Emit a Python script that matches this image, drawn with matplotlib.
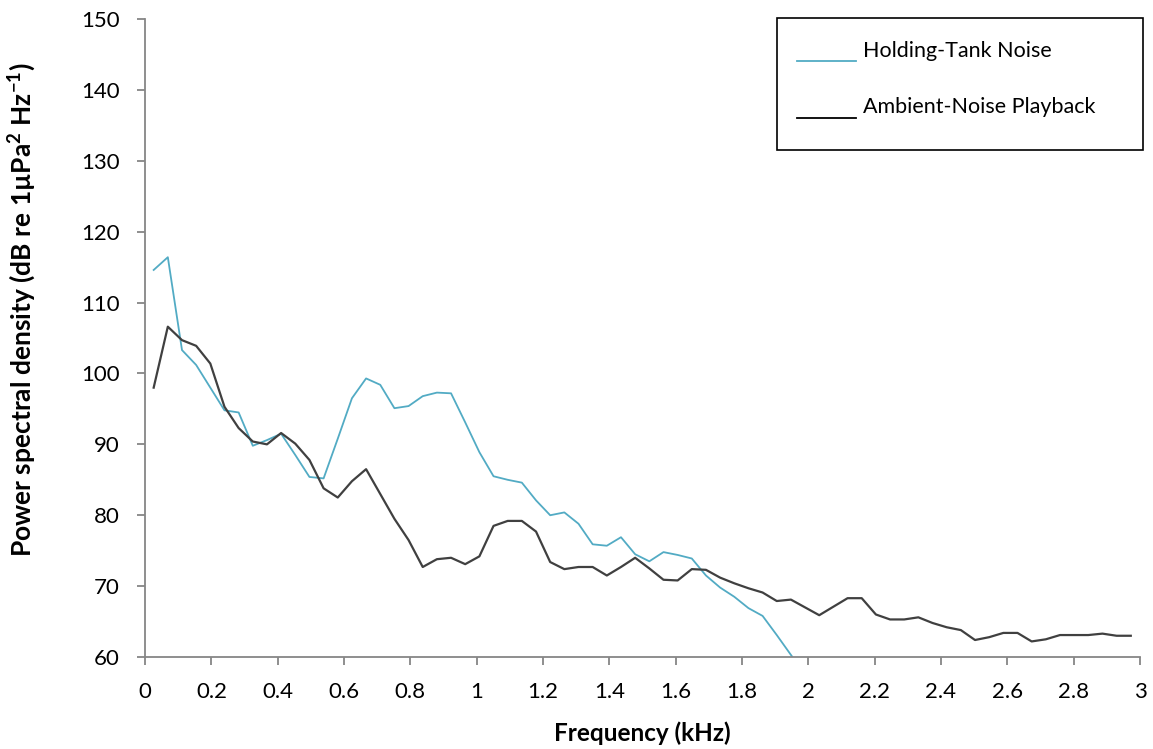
import numpy as np
import matplotlib
matplotlib.use('Agg')
import matplotlib.pyplot as plt
from matplotlib.patches import Rectangle
from matplotlib.lines import Line2D
from matplotlib.ticker import FuncFormatter, MultipleLocator

plt.rcParams['font.family'] = ['Lato', 'DejaVu Sans']
plt.rcParams['mathtext.fontset'] = 'custom'
plt.rcParams['mathtext.rm'] = 'Lato'
plt.rcParams['mathtext.bf'] = 'Lato:bold'

# frequency bins (kHz)
freq = np.round(0.026 + 0.0427 * np.arange(70), 4)

tank = [114.6, 116.4, 103.3, 101.2, 98.0, 94.8, 94.5, 89.8, 90.6, 91.5,
        88.5, 85.4, 85.2, 90.8, 96.5, 99.3, 98.4, 95.1, 95.4, 96.8,
        97.3, 97.2, 93.1, 88.9, 85.5, 85.0, 84.6, 82.1, 80.0, 80.4,
        78.8, 75.9, 75.7, 76.9, 74.5, 73.5, 74.8, 74.4, 73.9, 71.5,
        69.8, 68.5, 66.9, 65.8, 63.1, 60.3, 57.5]

playback = [98.0, 106.6, 104.7, 103.9, 101.4, 95.3, 92.3, 90.4, 90.0, 91.6,
            90.1, 87.8, 83.8, 82.5, 84.8, 86.5, 83.0, 79.5, 76.5, 72.7,
            73.8, 74.0, 73.1, 74.2, 78.5, 79.2, 79.2, 77.7, 73.4, 72.4,
            72.7, 72.7, 71.5, 72.7, 74.0, 72.5, 70.9, 70.8, 72.4, 72.3,
            71.2, 70.4, 69.7, 69.1, 67.9, 68.1, 67.0, 65.9, 67.1, 68.3,
            68.3, 66.0, 65.3, 65.3, 65.6, 64.8, 64.2, 63.8, 62.4, 62.8,
            63.4, 63.4, 62.2, 62.5, 63.1, 63.1, 63.1, 63.3, 63.0, 63.0]

labels = ['Holding-Tank Noise', 'Ambient-Noise Playback']
blue = '#52abc4'
dark = '#404040'
axis_grey = '#868686'

fig = plt.figure(figsize=(11.53, 7.49), dpi=100)
ax = fig.add_axes([0.1258, 0.1228, 0.8629, 0.8518])

ax.plot(freq[:len(tank)], tank, color=blue, lw=1.3)
ax.plot(freq, playback, color=dark, lw=1.6)

ax.set_xlim(0, 3)
ax.set_ylim(60, 150)
ax.xaxis.set_major_locator(MultipleLocator(0.2))
ax.yaxis.set_major_locator(MultipleLocator(10))
ax.xaxis.set_major_formatter(FuncFormatter(lambda v, p: f'{v:g}'))
for s in ['top', 'right']:
    ax.spines[s].set_visible(False)
for s in ['left', 'bottom']:
    ax.spines[s].set_color(axis_grey)
    ax.spines[s].set_linewidth(1.3)
ax.tick_params(direction='out', length=6, width=1.3, color=axis_grey,
               labelsize=16, pad=12)
ax.set_xlabel('Frequency (kHz)', fontsize=17.5, fontweight='bold', labelpad=14)
ax.set_ylabel(r'Power spectral density (dB re 1µPa$^\mathbf{2}$ Hz$^\mathbf{-1}$)',
              fontsize=19, fontweight='bold')
ax.yaxis.set_label_coords(-0.108, 0.545)

# legend box drawn like the original text box
W, H = 1153, 749
fig.patches.append(Rectangle((777/W, 1-150/H), (1143-777)/W, (150-18)/H,
                             transform=fig.transFigure, fill=False,
                             edgecolor='black', lw=1.2))
for y_line, y_text, c, lab in [(61, 57, blue, labels[0]), (118, 113, 'black', labels[1])]:
    fig.lines.append(Line2D([797/W, 856/W], [1-y_line/H]*2, transform=fig.transFigure,
                            color=c, lw=1.3))
    fig.text(863/W, 1-y_text/H, lab, color='black', fontsize=15.5, va='baseline')

fig.savefig('out.png', dpi=100)
